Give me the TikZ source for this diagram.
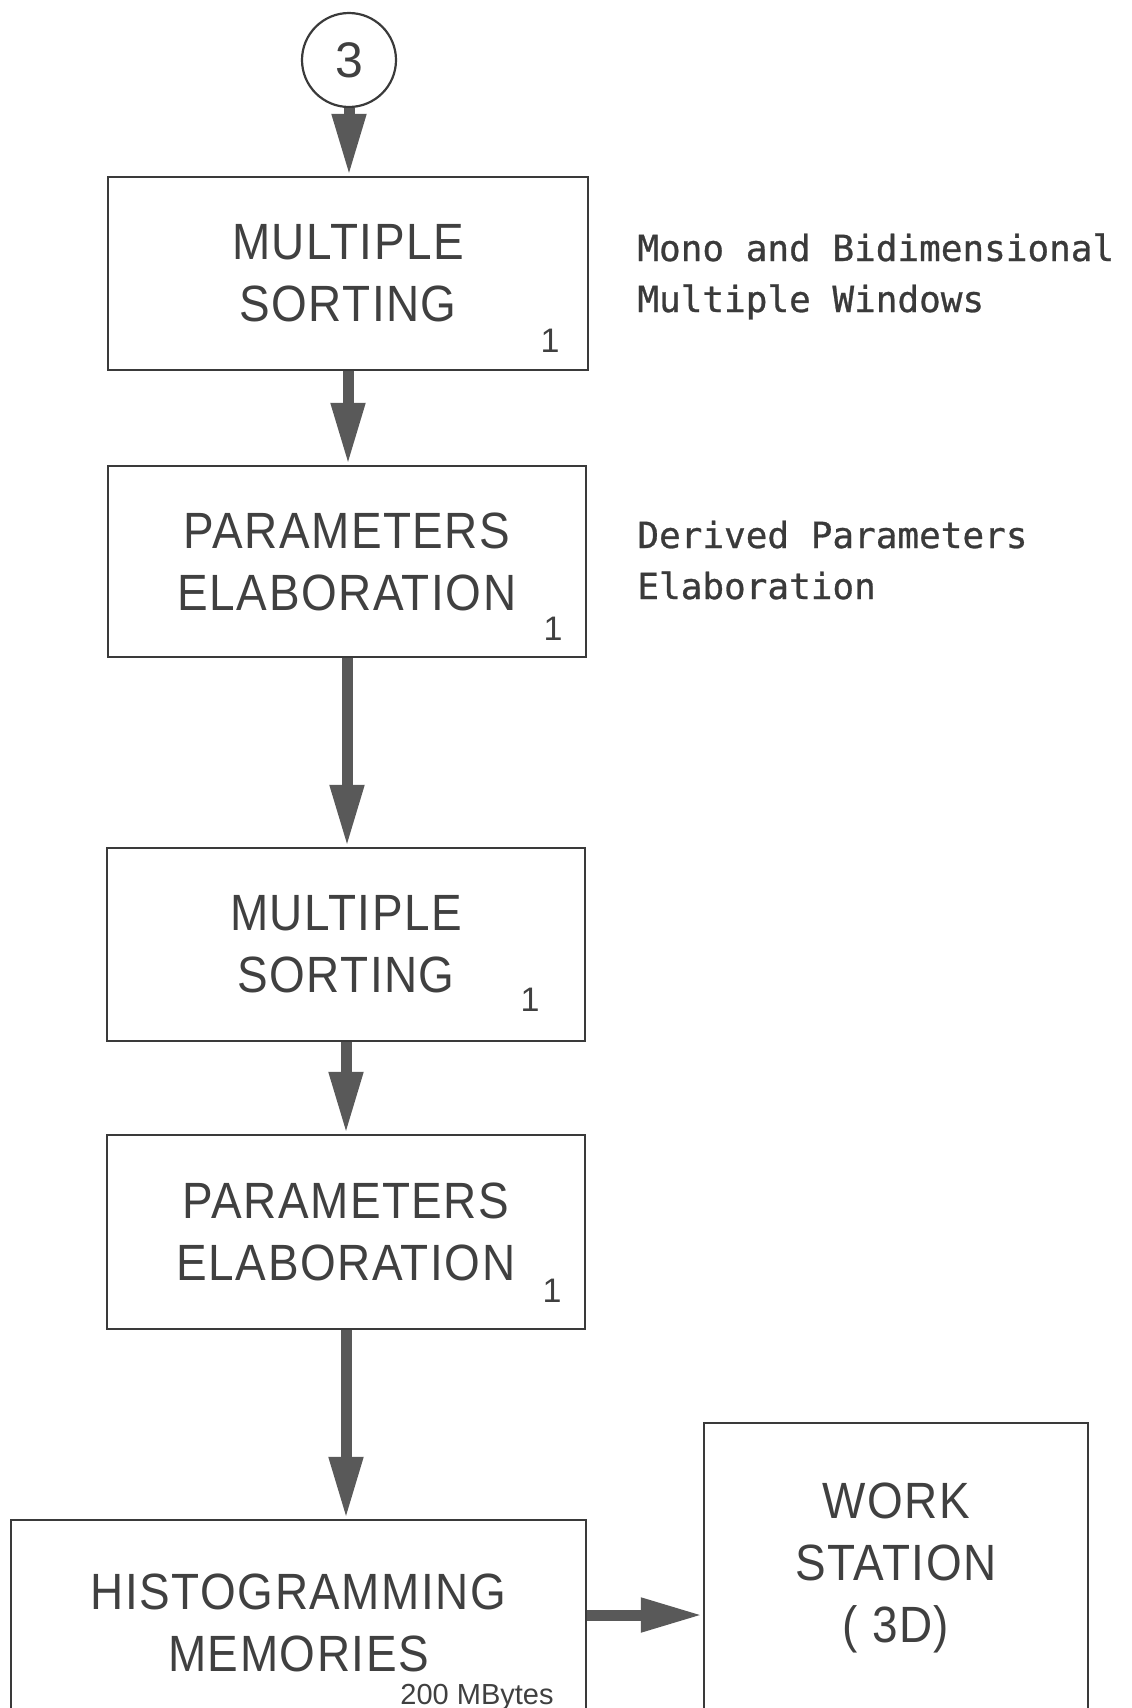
\documentclass[tikz,border=0pt]{standalone}
\usepackage{fontspec}
\setmainfont{Liberation Sans}
\newfontfamily\boxfont{Liberation Sans}[FakeStretch=0.9,LetterSpace=3]
\newfontfamily\notefont{DejaVu Sans Mono}[FakeBold=0.8]
\usetikzlibrary{arrows.meta}
\definecolor{frame}{HTML}{3A3A3A}
\definecolor{ink}{HTML}{404040}
\definecolor{flow}{HTML}{595959}

\tikzset{
  stage/.style={draw=frame, line width=1.25pt, rectangle, inner sep=0pt,
    text=ink, align=center, font=\boxfont\fontsize{25.5}{31}\selectfont},
  connector/.style={circle, draw=frame, line width=1.1pt, inner sep=0pt,
    minimum size=47pt, text=ink, font=\fontsize{25}{30}\selectfont},
  flowarrow/.style={draw=flow, line width=5.5pt,
    -{Triangle[length=31pt,width=16pt]}, color=flow},
  unitmark/.style={anchor=base, inner sep=0pt, text=ink,
    font=\fontsize{17}{20}\selectfont},
  note/.style={anchor=base west, inner sep=0pt, text=ink!90!black,
    font=\notefont\fontsize{18}{22}\selectfont},
  sizemark/.style={anchor=base east, inner sep=0pt, text=ink,
    font=\fontsize{14.5}{17}\selectfont}
}

\begin{document}
\begin{tikzpicture}[x=0.5pt, y=-0.5pt]
  \useasboundingbox (0,0) rectangle (1131,1708);

  % off-page connector
  \node[connector] (conn) at (349,60) {3};

  % processing chain
  \node[stage, minimum width=240pt, minimum height=96.5pt] (sort1) at (348,273.5)
    {MULTIPLE\\SORTING};
  \node[stage, minimum width=239pt, minimum height=95.5pt] (elab1) at (347,561.5)
    {PARAMETERS\\ELABORATION};
  \node[stage, minimum width=239pt, minimum height=96.5pt] (sort2) at (346,944.5)
    {MULTIPLE\\SORTING};
  \node[stage, minimum width=239pt, minimum height=97pt] (elab2) at (346,1232)
    {PARAMETERS\\ELABORATION};
  \node[stage, minimum width=287.5pt, minimum height=103pt] (histo) at (298.5,1623)
    {HISTOGRAMMING\\MEMORIES};
  \node[stage, minimum width=192pt, minimum height=145pt] (wstat) at (896,1568)
    {WORK\\STATION\\( 3D)};

  % unit counts
  \node[unitmark] (n1) at (550,352) {1};
  \node[unitmark] (n2) at (553,640) {1};
  \node[unitmark] (n3) at (530,1011) {1};
  \node[unitmark] (n4) at (552,1302) {1};
  \node[sizemark] (cap) at (554,1704) {200 MBytes};

  % side notes
  \node[note] (noteA1) at (637,261) {Mono and Bidimensional};
  \node[note] (noteA2) at (637,312) {Multiple Windows};
  \node[note] (noteB1) at (637,548) {Derived Parameters};
  \node[note] (noteB2) at (637,599) {Elaboration};

  % data flow
  \draw[flowarrow] (conn.south) -- (conn.south |- sort1.north);
  \draw[flowarrow] (sort1.south) -- (sort1.south |- elab1.north);
  \draw[flowarrow] (elab1.south) -- (elab1.south |- sort2.north);
  \draw[flowarrow] (sort2.south) -- (sort2.south |- elab2.north);
  \draw[flowarrow] (elab2.south) -- (elab2.south |- histo.north);
  \coordinate (hout) at ([yshift=4pt]histo.east);
  \draw[flowarrow] (hout) -- (hout -| wstat.west);
\end{tikzpicture}
\end{document}
